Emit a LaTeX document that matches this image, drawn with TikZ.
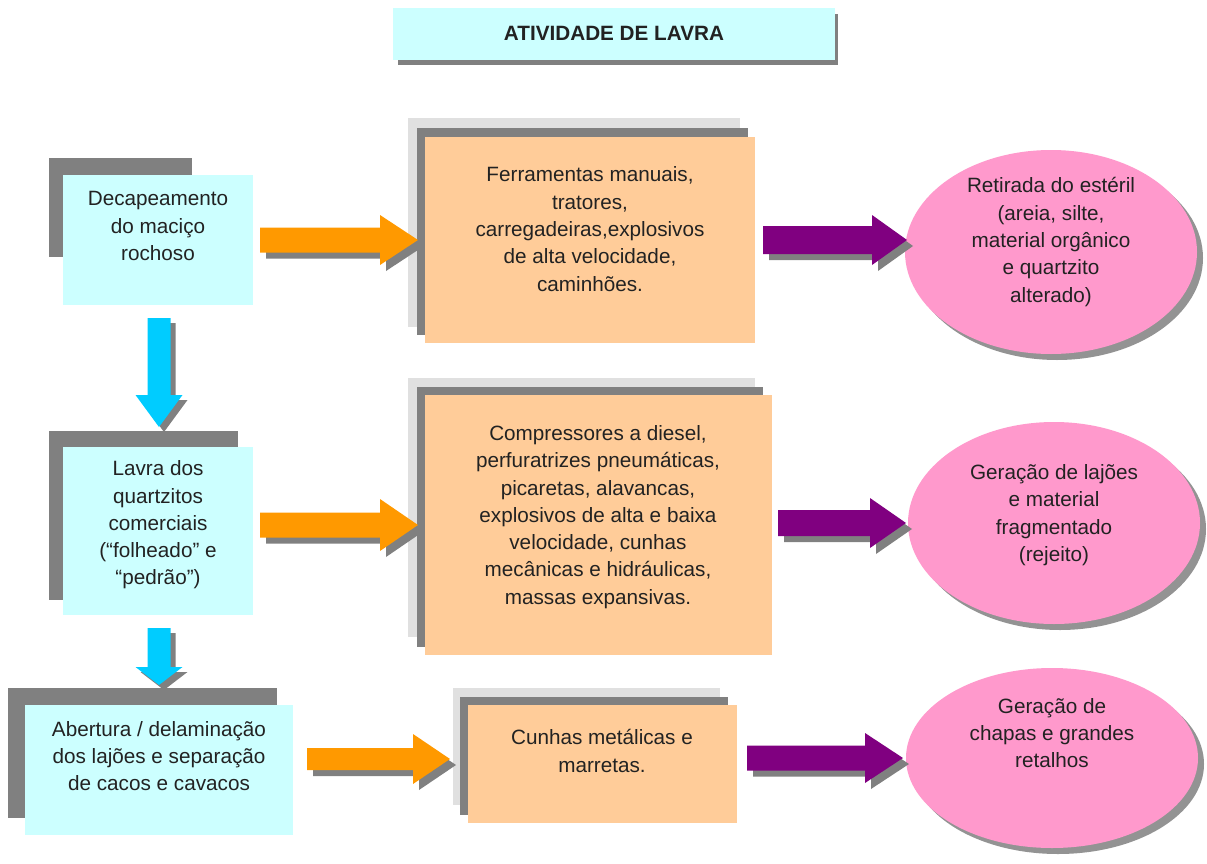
\documentclass[tikz,border=0pt]{standalone}
\usepackage{fontspec}
\setmainfont{Liberation Sans}
\usetikzlibrary{calc,shapes.geometric}
\definecolor{cyanc}{HTML}{CCFFFF}
\definecolor{dgray}{HTML}{808080}
\definecolor{lgray}{HTML}{E0E0E0}
\definecolor{orbox}{HTML}{FFCC99}
\definecolor{orarrow}{HTML}{FF9900}
\definecolor{purp}{HTML}{800080}
\definecolor{bluea}{HTML}{00CCFF}
\definecolor{pinkc}{HTML}{FF99CC}
\definecolor{textc}{HTML}{222222}
\newcommand\hpoly[7]{\fill[#7] ($(#1)+(#6,#6-#3)$) -- ($(#2)+(#6-#5,#6-#3)$) -- ($(#2)+(#6-#5,#6-#4)$) -- ($(#2)+(#6,#6)$) -- ($(#2)+(#6-#5,#6+#4)$) -- ($(#2)+(#6-#5,#6+#3)$) -- ($(#1)+(#6,#6+#3)$) -- cycle;}
\newcommand\harrow[6]{\hpoly{#1}{#2}{#4}{#5}{#6}{6}{dgray}\hpoly{#1}{#2}{#4}{#5}{#6}{0}{#3}}
\newcommand\vpoly[7]{\fill[#7] ($(#1)+(#6-#3,#6)$) -- ($(#2)+(#6-#3,#6-#5)$) -- ($(#2)+(#6-#4,#6-#5)$) -- ($(#2)+(#6,#6)$) -- ($(#2)+(#6+#4,#6-#5)$) -- ($(#2)+(#6+#3,#6-#5)$) -- ($(#1)+(#6+#3,#6)$) -- cycle;}
\newcommand\varrow[6]{\vpoly{#1}{#2}{#4}{#5}{#6}{5}{dgray}\vpoly{#1}{#2}{#4}{#5}{#6}{0}{#3}}
\begin{document}
\begin{tikzpicture}[x=1pt,y=-1pt,
  txt/.style={align=center, font=\fontsize{20.7}{27.3}\selectfont, text=textc, inner sep=0pt},
  shapebox/.style={anchor=north west, inner sep=0pt, outer sep=0pt},
  cbox/.style={shapebox, fill=cyanc},
  obox/.style={shapebox, fill=orbox},
  pinkell/.style={ellipse, fill=pinkc, inner sep=0pt, minimum width=292pt},
  ellshadow/.style={ellipse, fill=dgray!85, inner sep=0pt, minimum width=292pt}]
\useasboundingbox (0,0) rectangle (1207,864);
\fill[white] (0,0) rectangle (1207,864);

% title
\fill[dgray] (398,14) rectangle (838,65);
\node[cbox, minimum width=442pt, minimum height=52pt] (title) at (393,8) {};
\node[txt, font={\fontsize{20.7}{27.3}\selectfont\bfseries}] (titletxt) at (614,33) {ATIVIDADE DE LAVRA};

% left column
\fill[dgray] (49,158) rectangle (192,257);
\node[cbox, minimum width=190pt, minimum height=130pt] (b1) at (63,175) {};
\node[txt] (b1t) at (158,226) {Decapeamento\\do maciço\\rochoso};

\fill[dgray] (49,431) rectangle (238,600);
\node[cbox, minimum width=190pt, minimum height=168pt] (b2) at (63,447) {};
\node[txt] (b2t) at (158,525) {Lavra dos\\quartzitos\\comerciais\\(“folheado” e\\“pedrão”)};

\fill[dgray] (8,688) rectangle (277,818);
\node[cbox, minimum width=268pt, minimum height=130pt] (b3) at (25,705) {};
\node[txt] (b3t) at (159,756) {Abertura / delaminação\\dos lajões e separação\\de cacos e cavacos};

% middle column
\fill[lgray] (408,118) rectangle (740,327);
\fill[dgray] (417,128) rectangle (748,335);
\node[obox, minimum width=330pt, minimum height=206pt] (m1) at (425,137) {};
\node[txt] (m1t) at (590,229) {Ferramentas manuais,\\tratores,\\carregadeiras,explosivos\\de alta velocidade,\\caminhões.};

\fill[lgray] (408,378) rectangle (755,637);
\fill[dgray] (417,387) rectangle (763,647);
\node[obox, minimum width=347pt, minimum height=260pt] (m2) at (425,395) {};
\node[txt] (m2t) at (598,517) {Compressores a diesel,\\perfuratrizes pneumáticas,\\picaretas, alavancas,\\explosivos de alta e baixa\\velocidade, cunhas\\mecânicas e hidráulicas,\\massas expansivas.};

\fill[lgray] (453,688) rectangle (720,805);
\fill[dgray] (460,697) rectangle (728,815);
\node[obox, minimum width=269pt, minimum height=118pt] (m3) at (468,705) {};
\node[txt] (m3t) at (602,751) {Cunhas metálicas e\\marretas.};

% right column
\node[ellshadow, minimum height=204pt] (e1s) at (1057,258) {};
\node[pinkell, minimum height=204pt] (e1) at (1051,252) {};
\node[txt] (e1t) at (1051,242) {Retirada do estéril\\(areia, silte,\\material orgânico\\e quartzito\\alterado)};

\node[ellshadow, minimum height=202pt] (e2s) at (1060,529) {};
\node[pinkell, minimum height=202pt] (e2) at (1054,523) {};
\node[txt] (e2t) at (1054,515) {Geração de lajões\\e material\\fragmentado\\(rejeito)};

\node[ellshadow, minimum height=180pt] (e3s) at (1058,764) {};
\node[pinkell, minimum height=180pt] (e3) at (1052,758) {};
\node[txt] (e3t) at (1052,733) {Geração de\\chapas e grandes\\retalhos};

% arrow end points
\coordinate (o1s) at (260,240); \coordinate (o1t) at (418,240);
\coordinate (o2s) at (260,525); \coordinate (o2t) at (418,525);
\coordinate (o3s) at (307,759); \coordinate (o3t) at (450,759);
\coordinate (p1s) at (763,240); \coordinate (p1t) at (907,240);
\coordinate (p2s) at (778,523); \coordinate (p2t) at (906,523);
\coordinate (p3s) at (747,758); \coordinate (p3t) at (903,758);
\coordinate (v1s) at (159,318); \coordinate (v1t) at (159,427);
\coordinate (v2s) at (159,628); \coordinate (v2t) at (159,685);

\harrow{o1s}{o1t}{orarrow}{12.5}{25}{38}
\harrow{o2s}{o2t}{orarrow}{12.5}{26}{38}
\harrow{o3s}{o3t}{orarrow}{11}{25}{37}
\harrow{p1s}{p1t}{purp}{14}{25}{35}
\harrow{p2s}{p2t}{purp}{13}{25}{36}
\harrow{p3s}{p3t}{purp}{12.5}{25}{38}
\varrow{v1s}{v1t}{bluea}{11.5}{23.5}{32}
\varrow{v2s}{v2t}{bluea}{11.5}{23.5}{18}
\end{tikzpicture}
\end{document}
